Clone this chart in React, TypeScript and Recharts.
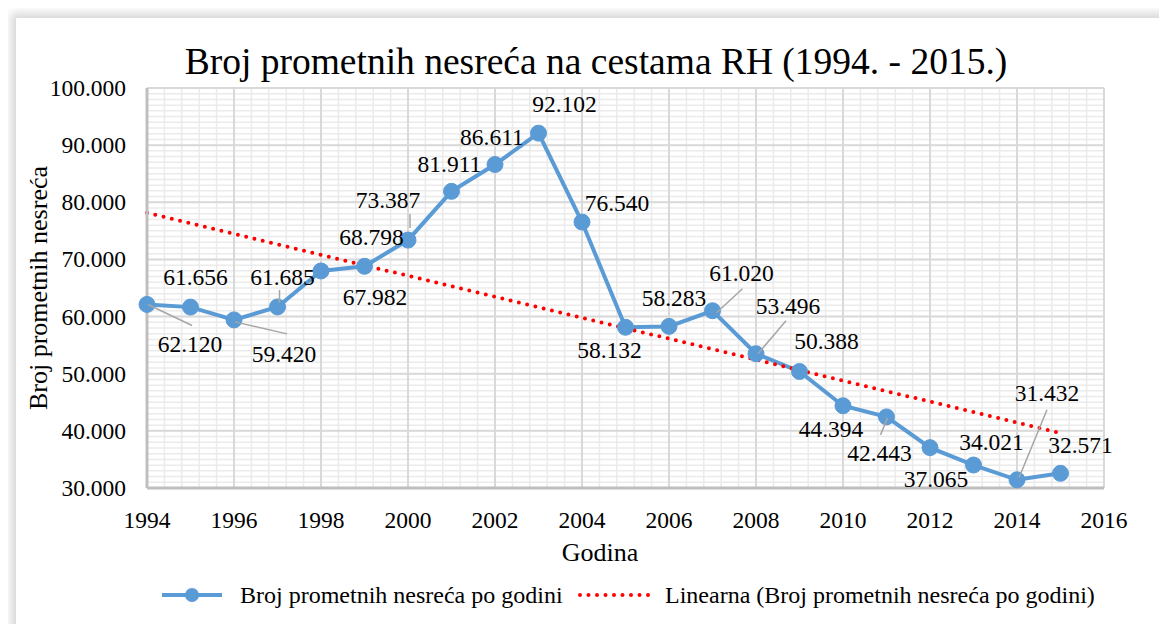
import { LineChart, Line, XAxis, YAxis, CartesianGrid, LabelList, Label } from 'recharts'

const years = [
  1994, 1995, 1996, 1997, 1998, 1999, 2000, 2001, 2002, 2003, 2004,
  2005, 2006, 2007, 2008, 2009, 2010, 2011, 2012, 2013, 2014, 2015,
]
const accidents = [
  62120, 61656, 59420, 61685, 67982, 68798, 73387, 81911, 86611, 92102, 76540,
  58132, 58283, 61020, 53496, 50388, 44394, 42443, 37065, 34021, 31432, 32571,
]
// linear trend at its two ends
const trendYears = [1994, 2015]
const trendValues = [78150, 39610]

const xTicks = [1994, 1996, 1998, 2000, 2002, 2004, 2006, 2008, 2010, 2012, 2014, 2016]
const yTicks = [30000, 40000, 50000, 60000, 70000, 80000, 90000, 100000]
const xMinor = Array.from({ length: 56 }, (_, i) => 1994 + i * 0.4)
const yMinor = Array.from({ length: 71 }, (_, i) => 30000 + i * 1000)

const BLUE = '#5B9BD5'
const RED = '#FF0000'
const FONT = 'Liberation Serif'

// label centre offset from point, optional leader [x1, y1, x2, y2] relative to point
const LABEL_POS: { dx: number; dy: number; leader?: [number, number, number, number] }[] = [
  { dx: 43, dy: 40, leader: [1, 0, 45, 21] },
  { dx: 5, dy: -30 },
  { dx: 50, dy: 34, leader: [1, 2, 53, 14] },
  { dx: 5, dy: -30, leader: [2, -4, 2, -17] },
  { dx: 54, dy: 26 },
  { dx: 7, dy: -29 },
  { dx: -20, dy: -40, leader: [2, -12, 2, -26] },
  { dx: -2, dy: -27 },
  { dx: -3, dy: -28 },
  { dx: 26, dy: -29 },
  { dx: 35, dy: -19 },
  { dx: -16, dy: 23 },
  { dx: 5, dy: -28 },
  { dx: 29, dy: -38, leader: [4, 2, 30, -22] },
  { dx: 32, dy: -48, leader: [2, 0, 30, -33] },
  { dx: 27, dy: -30 },
  { dx: -12, dy: 23 },
  { dx: -7, dy: 36, leader: [1, 1, -6, 18] },
  { dx: 6, dy: 31 },
  { dx: 18, dy: -23 },
  { dx: 30, dy: -87, leader: [2, -2, 30, -70] },
  { dx: 20, dy: -28 },
]

const rows = years.map((year, i) => {
  const t = trendYears.indexOf(year)
  return { year, accidents: accidents[i], trend: t >= 0 ? trendValues[t] : null }
})

const fmt = (v: number) => (v / 1000).toFixed(3)

function SerifText(props: any) {
  const { children, ...rest } = props
  return (
    <text fontFamily={FONT} style={{ fontFamily: FONT }} fill="#000" dominantBaseline="central" {...rest}>
      {children}
    </text>
  )
}

function PointLabel(props: any) {
  const { x, y, value, index } = props
  const p = LABEL_POS[index]
  if (!p) return null
  return (
    <g>
      {p.leader && (
        <line
          x1={x + p.leader[0]}
          y1={y + p.leader[1]}
          x2={x + p.leader[2]}
          y2={y + p.leader[3]}
          stroke="#A6A6A6"
          strokeWidth={1.5}
        />
      )}
      <SerifText x={x + p.dx} y={y + p.dy} textAnchor="middle" fontSize={23.5}>
        {fmt(value)}
      </SerifText>
    </g>
  )
}

function YTick(props: any) {
  const { x, y, payload } = props
  return (
    <SerifText x={x - 13} y={y} textAnchor="end" fontSize={23.5}>
      {fmt(payload.value)}
    </SerifText>
  )
}

function XTick(props: any) {
  const { x, y, payload } = props
  return (
    <SerifText x={x} y={y + 24} textAnchor="middle" fontSize={23.5}>
      {payload.value}
    </SerifText>
  )
}

export default function App() {
  return (
    <div style={{ position: 'relative', width: 1167, height: 632, margin: -8, overflow: 'hidden', background: '#fff', fontFamily: FONT }}>
      <div
        style={{
          position: 'absolute',
          left: 16,
          top: 18,
          right: -30,
          bottom: -30,
          background: '#fff',
          boxShadow: '-3px -3px 9px 2px rgba(0,0,0,0.16)',
        }}
      />
      <div
        style={{
          position: 'absolute',
          left: 0,
          width: 1192,
          top: 38,
          textAlign: 'center',
          fontSize: 37.5,
          lineHeight: '48px',
          color: '#000',
        }}
      >
        Broj prometnih nesreća na cestama RH (1994. - 2015.)
      </div>
      <div style={{ position: 'absolute', left: 0, top: 0 }}>
        <LineChart
          width={1167}
          height={632}
          data={rows}
          margin={{ top: 88, right: 63, bottom: 0, left: 0 }}
          style={{ fontFamily: FONT }}
        >
          <CartesianGrid
            stroke="#EBEBEB"
            strokeWidth={1.5}
            verticalValues={xMinor}
            horizontalValues={yMinor}
          />
          <CartesianGrid stroke="#D9D9D9" strokeWidth={2} verticalValues={xTicks} horizontalValues={yTicks} />
          <XAxis
            dataKey="year"
            type="number"
            domain={[1994, 2016]}
            ticks={xTicks}
            interval={0}
            height={144}
            axisLine={{ stroke: '#BFBFBF', strokeWidth: 3 }}
            tickLine={false}
            tick={<XTick />}
          >
            <Label
              content={() => (
                <SerifText x={600} y={552} textAnchor="middle" fontSize={26}>
                  Godina
                </SerifText>
              )}
            />
          </XAxis>
          <YAxis
            type="number"
            domain={[30000, 100000]}
            ticks={yTicks}
            interval={0}
            width={147}
            axisLine={{ stroke: '#BFBFBF', strokeWidth: 3 }}
            tickLine={false}
            tick={<YTick />}
          >
            <Label
              content={() => (
                <SerifText x={38} y={288} transform="rotate(-90 38 288)" textAnchor="middle" fontSize={26}>
                  Broj prometnih nesreća
                </SerifText>
              )}
            />
          </YAxis>
          <Line
            dataKey="accidents"
            stroke={BLUE}
            strokeWidth={4}
            dot={{ r: 8, fill: BLUE, stroke: BLUE, strokeWidth: 1 }}
            activeDot={false}
            isAnimationActive={false}
          >
            <LabelList dataKey="accidents" content={<PointLabel />} />
          </Line>
          <Line
            dataKey="trend"
            stroke={RED}
            strokeWidth={4}
            strokeDasharray="0 8.5"
            strokeLinecap="round"
            connectNulls
            dot={false}
            activeDot={false}
            isAnimationActive={false}
          />
        </LineChart>
      </div>
      <div style={{ position: 'absolute', left: 0, top: 580, height: 30 }}>
        <svg width={1167} height={30} style={{ position: 'absolute', left: 0, top: 0 }}>
          <line x1={162} y1={15} x2={222} y2={15} stroke={BLUE} strokeWidth={4} />
          <circle cx={192} cy={15} r={7} fill={BLUE} />
          <line x1={580} y1={15} x2={655} y2={15} stroke={RED} strokeWidth={4} strokeDasharray="0 8.5" strokeLinecap="round" />
          <SerifText x={240} y={15} fontSize={24}>
            Broj prometnih nesreća po godini
          </SerifText>
          <SerifText x={665} y={15} fontSize={24}>
            Linearna (Broj prometnih nesreća po godini)
          </SerifText>
        </svg>
      </div>
    </div>
  )
}
